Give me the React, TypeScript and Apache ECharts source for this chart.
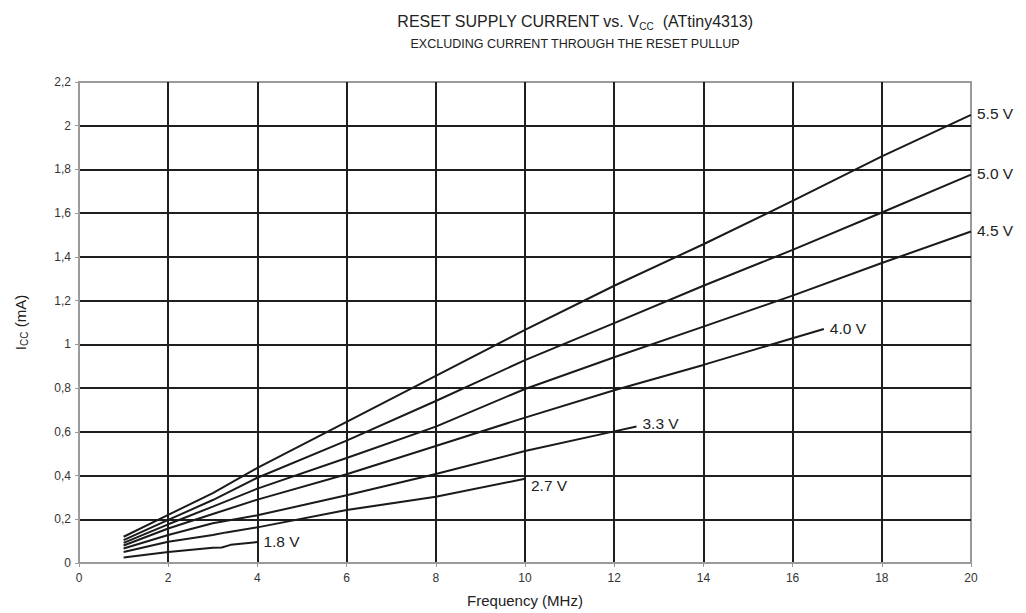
import React, { useEffect, useRef } from "react";
import * as echarts from "echarts";

const freq = [1, 2, 3, 4, 6, 8, 10, 12, 14, 16, 18, 20];
const v55 = [0.12, 0.22, 0.32, 0.435, 0.645, 0.856, 1.066, 1.268, 1.458, 1.656, 1.86, 2.05];
const v50 = [0.105, 0.197, 0.288, 0.39, 0.56, 0.741, 0.928, 1.097, 1.268, 1.432, 1.603, 1.776];
const v45 = [0.092, 0.177, 0.258, 0.34, 0.48, 0.624, 0.796, 0.941, 1.081, 1.223, 1.372, 1.516];
const freq40 = [1, 2, 3, 4, 6, 8, 10, 12, 14, 16, 16.7];
const v40 = [0.08, 0.158, 0.224, 0.29, 0.406, 0.535, 0.665, 0.79, 0.906, 1.028, 1.07];
const freq33 = [1, 2, 3, 4, 6, 8, 10, 12, 12.5];
const v33 = [0.066, 0.128, 0.182, 0.218, 0.31, 0.407, 0.512, 0.602, 0.624];
const freq27 = [1, 2, 3, 3.3, 4, 6, 8, 10];
const v27 = [0.05, 0.097, 0.128, 0.14, 0.163, 0.242, 0.303, 0.385];
const freq18 = [1, 2, 3, 3.2, 3.4, 4];
const v18 = [0.025, 0.05, 0.07, 0.071, 0.083, 0.096];

const yTicks = ["0", "0,2", "0,4", "0,6", "0,8", "1", "1,2", "1,4", "1,6", "1,8", "2", "2,2"];

const seriesDefs = [
  { name: "5.5 V", x: freq, y: v55 },
  { name: "5.0 V", x: freq, y: v50 },
  { name: "4.5 V", x: freq, y: v45 },
  { name: "4.0 V", x: freq40, y: v40 },
  { name: "3.3 V", x: freq33, y: v33 },
  { name: "2.7 V", x: freq27, y: v27 },
  { name: "1.8 V", x: freq18, y: v18 },
];

export default function App() {
  const ref = useRef<HTMLDivElement>(null);
  useEffect(() => {
    if (!ref.current) return;
    const chart = echarts.init(ref.current, null, { renderer: "svg" });
    const font = "Liberation Sans, Arial, sans-serif";
    chart.setOption({
      animation: false,
      backgroundColor: "#fff",
      textStyle: { fontFamily: font },
      title: [
        {
          text: "RESET SUPPLY CURRENT vs. V{sub|CC}  (ATtiny4313)",
          left: 570,
          top: 7,
          textAlign: "center",
          textStyle: {
            fontSize: 16,
            fontWeight: "normal",
            color: "#222",
            fontFamily: font,
            rich: { sub: { fontSize: 10, verticalAlign: "bottom", padding: [9, 0, 0, 0], color: "#222" } },
          },
        },
        {
          text: "EXCLUDING CURRENT THROUGH THE RESET PULLUP",
          left: 570,
          top: 32,
          textAlign: "center",
          textStyle: { fontSize: 12.5, fontWeight: "normal", color: "#222", fontFamily: font },
        },
      ],
      grid: {
        left: 79,
        right: 55,
        top: 82,
        bottom: 50,
        show: true,
        borderColor: "#9a9a9a",
        borderWidth: 2,
        backgroundColor: "transparent",
      },
      xAxis: {
        type: "value",
        min: 0,
        max: 20,
        interval: 2,
        name: "Frequency (MHz)",
        nameLocation: "middle",
        nameGap: 30,
        nameTextStyle: { fontSize: 15, color: "#222" },
        axisLine: { show: true, lineStyle: { color: "#9a9a9a", width: 2 } },
        axisTick: { show: true, length: 4, lineStyle: { color: "#9a9a9a" } },
        axisLabel: { fontSize: 12, color: "#333", margin: 9 },
        splitLine: { show: true, showMinLine: false, showMaxLine: false, lineStyle: { color: "#1e1e1e", width: 2 } },
      },
      yAxis: {
        type: "value",
        min: 0,
        max: 2.2,
        interval: 0.2,
        name: "I{sub|CC} (mA)",
        nameLocation: "middle",
        nameGap: 50,
        nameRotate: 90,
        nameTextStyle: {
          fontSize: 15,
          color: "#222",
          rich: { sub: { fontSize: 10, verticalAlign: "bottom", padding: [8, 0, 0, 0], color: "#222" } },
        },
        axisLine: { show: true, lineStyle: { color: "#9a9a9a", width: 2 } },
        axisTick: { show: true, length: 4, lineStyle: { color: "#9a9a9a" } },
        axisLabel: {
          fontSize: 12,
          color: "#333",
          margin: 8,
          formatter: (v: number) => yTicks[Math.round(v / 0.2)] ?? "",
        },
        splitLine: { show: true, showMinLine: false, showMaxLine: false, lineStyle: { color: "#1e1e1e", width: 2 } },
      },
      series: seriesDefs.map((s) => ({
        type: "line",
        name: s.name,
        data: s.x.map((f, i) => [f, s.y[i]]),
        showSymbol: false,
        symbol: "none",
        lineStyle: { color: "#1a1a1a", width: 2 },
        z: 5,
        endLabel: {
          show: true,
          formatter: s.name,
          fontSize: 15.5,
          color: "#222",
          distance: 6,
          offset: s.name === "2.7 V" ? [0, 7] : s.name === "3.3 V" ? [0, -3] : [0, -1],
        },
      })),
    });
    return () => chart.dispose();
  }, []);
  return <div ref={ref} style={{ position: "fixed", left: 0, top: 0, width: 1026, height: 613 }} />;
}
